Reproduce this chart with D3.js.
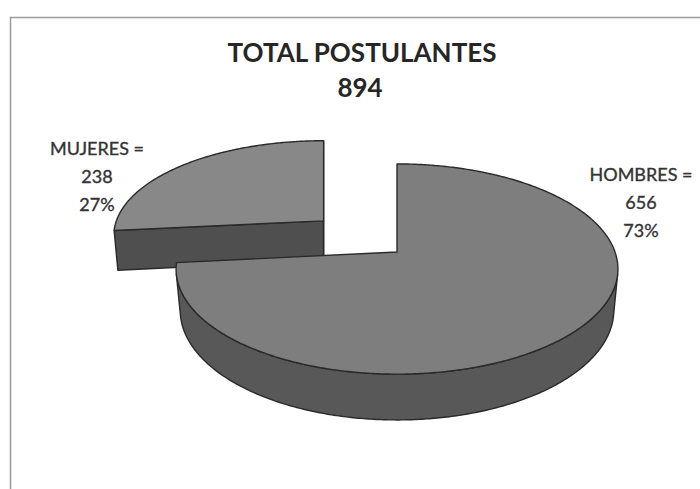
<!DOCTYPE html>
<html lang="es">
<head>
  <meta charset="UTF-8">
  <title>Total postulantes</title>
  <script src="https://cdn.jsdelivr.net/npm/d3@7"></script>
  <style>
    body { margin: 0; background: #fff; }
    svg { display: block; }
  </style>
</head>
<body>
  <script>
    // datos
    var categorias = ['HOMBRES', 'MUJERES']
    var valores = [656, 238]
    var titulo = 'TOTAL POSTULANTES'

    // estilo
    var colTapa = ['#7e7e7e', '#888888']
    var colLado = ['#585858', '#4f4f4f']
    var separacion = [0, 104]          // porción separada (explode)
    var posEtiqueta = [[641, 181], [97, 155]]

    var w = 700, h = 489
    var total = d3.sum(valores)
    var svg = d3.select('body').append('svg').attr('width', w).attr('height', h)

    // marco del escaneo
    svg.append('path').attr('d', 'M10.5,489 V17.5 H700')
      .attr('fill', 'none').attr('stroke', '#9a9a9a').attr('stroke-width', 1.5)

    // proyeccion 3D con perspectiva
    var cx = 397, cy = 252, R = 218, H = 47, D = 1188, phi = 28 * Math.PI / 180
    var cam = [0, D * Math.sin(phi), D * Math.cos(phi)]
    function escala(p) {
      var zc = p[2] * Math.cos(phi) + p[1] * Math.sin(phi)
      return D / (D - zc)
    }
    // p relativo al centro de la porcion, off = desplazamiento [x, z]
    function proj(p, off) {
      var q = [p[0] + off[0], p[1], p[2] + off[1]]
      var s = escala(q), s0 = escala([off[0], 0, off[1]])
      var ys = q[2] * Math.sin(phi) - q[1] * Math.cos(phi)
      return [cx + off[0] * s0 + p[0] * s, cy + ys * s]
    }
    function punto(a, r, y) {
      return [r * Math.sin(a), y, -r * Math.cos(a)]
    }
    function visible(n, p, off) {
      var q = [p[0] + off[0], p[1], p[2] + off[1]]
      return n[0] * (cam[0] - q[0]) + n[1] * (cam[1] - q[1]) + n[2] * (cam[2] - q[2]) > 0
    }
    var linea = d3.line()

    var pie = d3.pie().sort(null).value(function (d) { return d })
    var arcos = pie(valores).map(function (d, i) {
      var mid = (d.startAngle + d.endAngle) / 2
      d.i = i
      d.off = [separacion[i] * Math.sin(mid), -separacion[i] * Math.cos(mid)]
      d.prof = proj([0, 0, 0], d.off)[1]
      return d
    })
    // de atras hacia adelante
    arcos.sort(function (a, b) { return a.prof - b.prof })

    arcos.forEach(function (d) {
      var g = svg.append('g')
      var P = function (p) { return proj(p, d.off) }
      var n = Math.max(8, Math.ceil((d.endAngle - d.startAngle) / 0.01))
      var angs = d3.range(n + 1).map(function (k) { return d.startAngle + (d.endAngle - d.startAngle) * k / n })
      var estilo = function (sel, c) {
        sel.attr('fill', c).attr('stroke', '#2a2a2a').attr('stroke-width', 1.4).attr('stroke-linejoin', 'round')
      }

      // caras radiales
      ;[[d.startAngle, -1], [d.endAngle, 1]].forEach(function (e) {
        var a = e[0]
        var nrm = [e[1] * Math.cos(a), 0, e[1] * Math.sin(a)]
        var pts = [punto(a, 0, 0), punto(a, R, 0), punto(a, R, -H), punto(a, 0, -H)]
        if (visible(nrm, punto(a, R / 2, -H / 2), d.off)) {
          g.append('path').attr('d', linea(pts.map(P)) + 'Z').call(estilo, colLado[d.i])
        }
      })

      // pared exterior: tramos visibles
      var tramo = []
      var tramos = []
      angs.forEach(function (a) {
        var vis = visible([Math.sin(a), 0, -Math.cos(a)], punto(a, R, -H / 2), d.off)
        if (vis) tramo.push(a)
        else if (tramo.length) { tramos.push(tramo); tramo = [] }
      })
      if (tramo.length) tramos.push(tramo)
      tramos.forEach(function (t) {
        if (t.length < 2) return
        var sup = t.map(function (a) { return P(punto(a, R, 0)) })
        var inf = t.slice().reverse().map(function (a) { return P(punto(a, R, -H)) })
        g.append('path').attr('d', linea(sup.concat(inf)) + 'Z').call(estilo, colLado[d.i])
      })

      // tapa
      var tapa = [P([0, 0, 0])].concat(angs.map(function (a) { return P(punto(a, R, 0)) }))
      g.append('path').attr('d', linea(tapa) + 'Z').call(estilo, colTapa[d.i])
    })

    // titulo
    svg.append('text').attr('x', 362).attr('y', 62).attr('text-anchor', 'middle')
      .attr('font-family', 'Lato, sans-serif').attr('font-weight', 'bold').attr('font-size', 26)
      .attr('fill', '#262626').text(titulo)
    svg.append('text').attr('x', 360).attr('y', 97).attr('text-anchor', 'middle')
      .attr('font-family', 'Lato, sans-serif').attr('font-weight', 'bold').attr('font-size', 26)
      .attr('fill', '#262626').text(total)

    // etiquetas
    var pct = d3.format('.0%')
    categorias.forEach(function (c, i) {
      var lineas = [c + ' =', valores[i], pct(valores[i] / total)]
      var t = svg.append('text').attr('text-anchor', 'middle')
        .attr('font-family', 'Lato, sans-serif').attr('font-size', 18).attr('fill', '#333')
        .attr('stroke', '#333').attr('stroke-width', 0.35)
      lineas.forEach(function (s, k) {
        t.append('tspan').attr('x', posEtiqueta[i][0]).attr('y', posEtiqueta[i][1] + k * 28).text(s)
      })
    })
  </script>
</body>
</html>
